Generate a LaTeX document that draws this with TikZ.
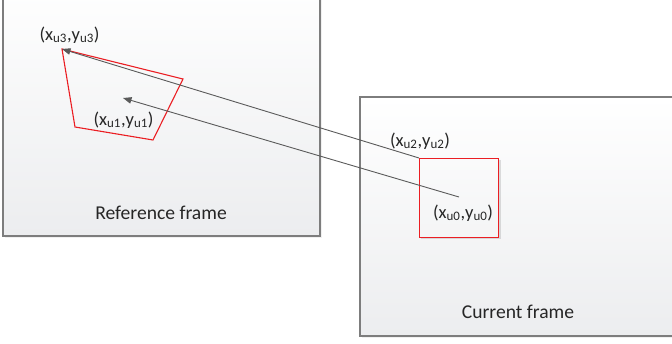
\documentclass[tikz,border=0pt]{standalone}
\usepackage{fontspec}
\setmainfont{Carlito}
\usetikzlibrary{arrows.meta,shadows}
\definecolor{edgegrey}{RGB}{125,125,125}
\definecolor{arrowgrey}{RGB}{90,90,90}
\definecolor{panelbottom}{RGB}{236,237,239}
\definecolor{boxred}{RGB}{235,30,35}
\tikzset{
  frame/.style={draw=edgegrey, line width=1.5pt, top color=white, bottom color=panelbottom,
    drop shadow={opacity=0.12, shadow xshift=1.5pt, shadow yshift=-1.5pt}},
  region/.style={draw=boxred, line width=1.1pt},
  motion/.style={draw=arrowgrey, line width=0.9pt, -{Triangle[length=8.5pt,width=6.5pt]}},
  lbl/.style={inner sep=0pt, font=\fontsize{18.5}{20}\selectfont, text=black!85},
  title/.style={lbl, font=\fontsize{19.6}{21}\selectfont},
}
\newcommand{\pt}[2]{(#1\textsubscript{u#2},y\textsubscript{u#2})}
\begin{document}
\begin{tikzpicture}[x=1pt, y=-1pt]
  \useasboundingbox (0,0) rectangle (672,343);
  \clip (0,0) rectangle (672,343);
  % the two image frames
  \path[frame] (3,-20) rectangle (320,236);
  \path[frame] (360,97) rectangle (700,336);
  % block in the current frame, with a faint offset edge as its shadow
  \draw[black, opacity=0.12, line width=1.5pt] (421,159.5) ++(79,0) -- ++(0,79) -- ++(-79,0);
  \node[region, minimum width=79pt, minimum height=79pt, inner sep=0pt,
        anchor=north west] (blk) at (419,158) {};
  % matched (warped) block in the reference frame
  \coordinate (q3) at (62,49);
  \coordinate (qa) at (183,79);
  \coordinate (qb) at (153,140);
  \coordinate (qc) at (75,127);
  \draw[region, line join=miter] (q3) -- (qa) -- (qb) -- (qc) -- cycle;
  \coordinate (u0) at (459,197);
  \coordinate (u1) at (123,98);
  % motion vectors
  \draw[motion] (blk.north west) -- (q3);
  \draw[motion] (u0) -- (u1);
  % labels
  \node[lbl] (l3) at (69.5,35) {\pt{x}{3}};
  \node[lbl] (l1) at (123.5,120) {\pt{x}{1}};
  \node[lbl] (l2) at (420,141) {\pt{x}{2}};
  \node[lbl] (l0) at (463,213) {\pt{x}{0}};
  \node[title] (rf) at (161,213) {Reference frame};
  \node[title] (cf) at (518,312) {Current frame};
\end{tikzpicture}
\end{document}
